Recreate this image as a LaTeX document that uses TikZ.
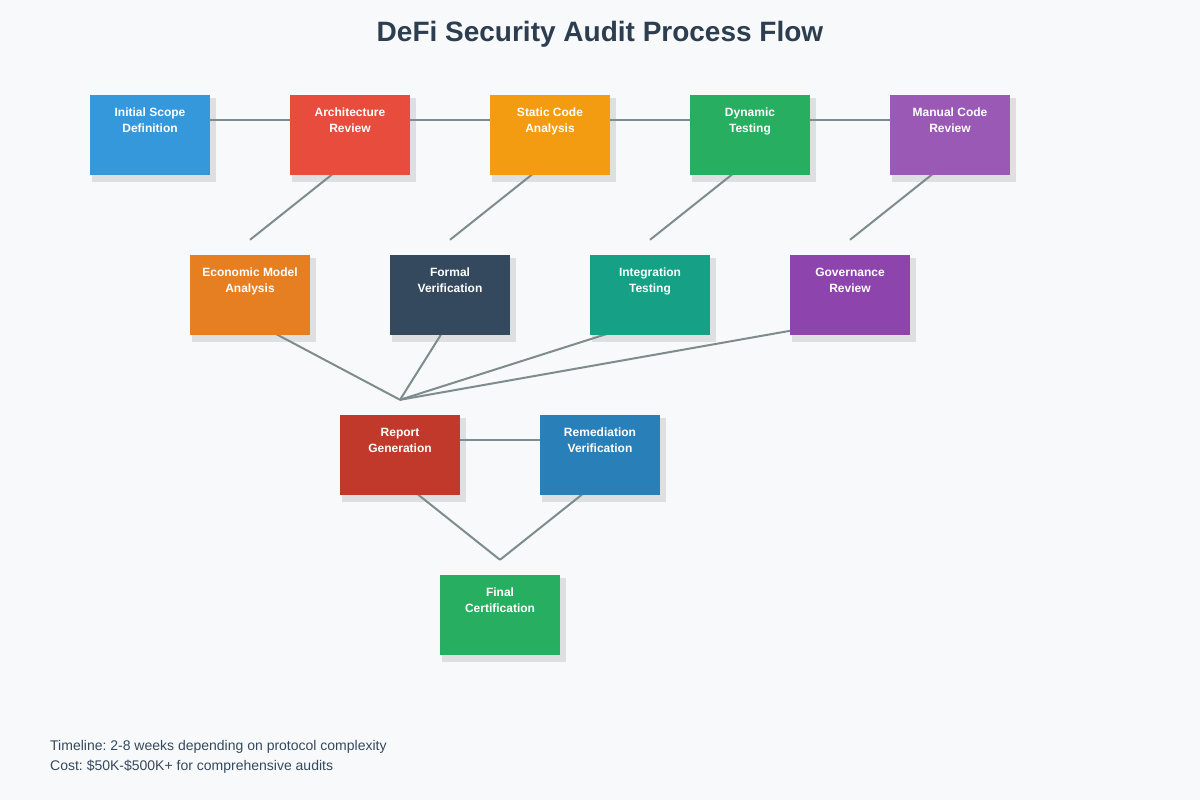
\documentclass[tikz,border=0pt]{standalone}
\usepackage{fontspec}
\setmainfont{Liberation Sans}
\frenchspacing
\pgfdeclarelayer{bglayer}
\pgfdeclarelayer{shadowlayer}
\pgfdeclarelayer{linelayer}
\pgfsetlayers{bglayer,shadowlayer,linelayer,main}
\definecolor{bgc}{HTML}{F8F9FA}
\definecolor{titlec}{HTML}{2C3E50}
\definecolor{linec}{HTML}{7F8C8D}
\definecolor{footc}{HTML}{34495E}
\definecolor{cA}{HTML}{3498DB}
\definecolor{cB}{HTML}{E74C3C}
\definecolor{cC}{HTML}{F39C12}
\definecolor{cD}{HTML}{27AE60}
\definecolor{cE}{HTML}{9B59B6}
\definecolor{cF}{HTML}{E67E22}
\definecolor{cG}{HTML}{34495E}
\definecolor{cH}{HTML}{16A085}
\definecolor{cI}{HTML}{8E44AD}
\definecolor{cJ}{HTML}{C0392B}
\definecolor{cK}{HTML}{2980B9}
\tikzset{
  boxnode/.style={rectangle, minimum width=120pt, minimum height=80pt, inner sep=0pt, draw=none},
  boxlabel/.style={anchor=base, inner sep=0pt, text=white, font=\fontsize{12}{14}\selectfont\bfseries},
  conn/.style={draw=linec, line width=2pt},
  shadowfill/.style={fill=black, fill opacity=0.1},
  foottext/.style={anchor=base west, inner sep=0pt, text=footc, font=\fontsize{14}{16}\selectfont},
}
% name, center x, top y, colour, line1, line2
\newcommand\auditbox[6]{%
  \node[boxnode, fill=#4] (#1) at (#2,#3+40) {};
  \node[boxlabel] (#1l1) at (#2,#3+21) {#5};
  \node[boxlabel] (#1l2) at (#2,#3+37) {#6};
  \begin{pgfonlayer}{shadowlayer}
    \fill[shadowfill] ([shift={(2,3)}]#1.north west) rectangle ([shift={(6,7)}]#1.south east);
  \end{pgfonlayer}
}
\begin{document}
\begin{tikzpicture}[x=1pt,y=-1pt]
\begin{pgfonlayer}{bglayer}
  \fill[bgc] (0,0) rectangle (1200,800);
\end{pgfonlayer}
\useasboundingbox (0,0) rectangle (1200,800);
\node[anchor=base, text=titlec, font=\fontsize{28}{32}\selectfont\bfseries] (title) at (600,41.5) {DeFi Security Audit Process Flow};

\auditbox{a}{150}{95}{cA}{Initial Scope}{Definition}
\auditbox{b}{350}{95}{cB}{Architecture}{Review}
\auditbox{c}{550}{95}{cC}{Static Code}{Analysis}
\auditbox{d}{750}{95}{cD}{Dynamic}{Testing}
\auditbox{e}{950}{95}{cE}{Manual Code}{Review}
\auditbox{f}{250}{255}{cF}{Economic Model}{Analysis}
\auditbox{g}{450}{255}{cG}{Formal}{Verification}
\auditbox{h}{650}{255}{cH}{Integration}{Testing}
\auditbox{i}{850}{255}{cI}{Governance}{Review}
\auditbox{j}{400}{415}{cJ}{Report}{Generation}
\auditbox{k}{600}{415}{cK}{Remediation}{Verification}
\auditbox{l}{500}{575}{cD}{Final}{Certification}

\coordinate (pf) at ([shift={(0,-15)}]f.north);
\coordinate (pg) at ([shift={(0,-15)}]g.north);
\coordinate (ph) at ([shift={(0,-15)}]h.north);
\coordinate (pi) at ([shift={(0,-15)}]i.north);
\coordinate (pj) at ([shift={(0,-15)}]j.north);
\coordinate (pl) at ([shift={(0,-15)}]l.north);

\begin{pgfonlayer}{linelayer}
  \draw[conn] ([shift={(0,25)}]a.north east) -- ([shift={(0,25)}]b.north west);
  \draw[conn] ([shift={(0,25)}]b.north east) -- ([shift={(0,25)}]c.north west);
  \draw[conn] ([shift={(0,25)}]c.north east) -- ([shift={(0,25)}]d.north west);
  \draw[conn] ([shift={(0,25)}]d.north east) -- ([shift={(0,25)}]e.north west);
  \draw[conn] ([shift={(0,-15)}]b.south) -- (pf);
  \draw[conn] ([shift={(0,-15)}]c.south) -- (pg);
  \draw[conn] ([shift={(0,-15)}]d.south) -- (ph);
  \draw[conn] ([shift={(0,-15)}]e.south) -- (pi);
  \draw[conn] ([shift={(0,-15)}]f.south) -- (pj);
  \draw[conn] ([shift={(0,-15)}]g.south) -- (pj);
  \draw[conn] ([shift={(0,-15)}]h.south) -- (pj);
  \draw[conn] ([shift={(0,-15)}]i.south) -- (pj);
  \draw[conn] ([shift={(0,25)}]j.north east) -- ([shift={(0,25)}]k.north west);
  \draw[conn] ([shift={(0,-15)}]j.south) -- (pl);
  \draw[conn] ([shift={(0,-15)}]k.south) -- (pl);
\end{pgfonlayer}

\node[foottext] (foot1) at (50,750) {Timeline: 2-8 weeks depending on protocol complexity};
\node[foottext] (foot2) at (50,770) {Cost: \$50K-\$500K+ for comprehensive audits};
\end{tikzpicture}
\end{document}
